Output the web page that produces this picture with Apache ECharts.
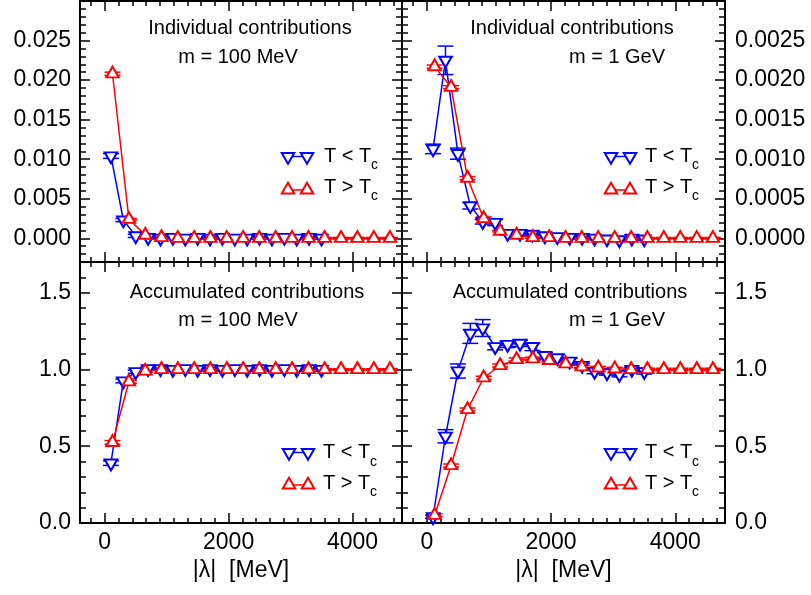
<!DOCTYPE html>
<html><head><meta charset="utf-8">
<script src="https://cdn.jsdelivr.net/npm/echarts@6/dist/echarts.min.js"></script>
<style>html,body{margin:0;padding:0;background:#fff}#c{width:811px;height:595px}</style>
</head><body><div id="c"></div>
<script>
// ---- data ----
const xBelow = [100,300,500,700,900,1100,1300,1500,1700,1900,2100,2300,2500,2700,2900,3100,3300,3500];
const xAbove = [125,390,655,915,1180,1445,1705,1970,2235,2495,2760,3025,3290,3550,3815,4080,4345,4605];

// Individual contributions, m = 100 MeV
const indLightBelow    = [0.0104,0.0023,0.0003,0.0001,0.0000,0.0001,0.0000,0.0001,0.0000,0.0001,0.0000,0.0000,0.0001,0.0000,0.0001,0.0000,0.0001,0.0000];
const indLightBelowErr = [0.0003,0.0002,0.0002,0.0001,0.0001,0.0001,0.0001,0.0001,0.0001,0.0001,0.0001,0.0001,0.0001,0.0001,0.0001,0.0001,0.0001,0.0001];
const indLightAbove    = [0.0208,0.0024,0.0004,0.0001,0.0000,0.0000,0.0000,0.0000,0.0000,0.0000,0.0000,0.0000,0.0000,0.0000,0.0000,0.0000,0.0000,0.0000];
const indLightAboveErr = [0.0002,0.0001,0.0001,0.0001,0.0001,0.0001,0.0001,0.0001,0.0001,0.0001,0.0001,0.0001,0.0001,0.0001,0.0001,0.0001,0.0001,0.0001];

// Individual contributions, m = 1 GeV
const indHeavyBelow    = [0.00113,0.00225,0.00107,0.00041,0.00021,0.00020,0.00006,0.00006,0.00005,0.00003,0.00002,0.00001,0.00001,0.00000,-0.00001,-0.00002,0.00000,-0.00001];
const indHeavyBelowErr = [0.00006,0.00018,0.00007,0.00004,0.00003,0.00004,0.00002,0.00002,0.00002,0.00002,0.00002,0.00002,0.00002,0.00002,0.00002,0.00002,0.00002,0.00002];
const indHeavyAbove    = [0.00217,0.00191,0.00076,0.00025,0.00009,0.00004,0.00001,0.00001,0.00000,0.00000,0.00000,0.00000,0.00000,0.00000,0.00000,0.00000,0.00000,0.00000];
const indHeavyAboveErr = [0.00002,0.00002,0.00002,0.00002,0.00001,0.00001,0.00001,0.00001,0.00001,0.00001,0.00001,0.00001,0.00001,0.00001,0.00001,0.00001,0.00001,0.00001];

// Accumulated contributions, m = 100 MeV
const accLightBelow    = [0.39,0.925,0.985,1.005,1.005,1.0,1.005,1.0,1.005,1.0,1.005,1.0,1.005,1.0,1.005,1.0,1.005,1.0];
const accLightBelowErr = [0.015,0.012,0.01,0.01,0.01,0.01,0.01,0.01,0.01,0.01,0.01,0.01,0.01,0.01,0.01,0.01,0.01,0.01];
const accLightAbove    = [0.525,0.92,0.99,1.0,1.0,1.0,1.0,1.0,1.0,1.0,1.0,1.0,1.0,1.0,1.0,1.0,1.0,1.0];
const accLightAboveErr = [0.012,0.01,0.008,0.006,0.005,0.005,0.005,0.005,0.005,0.005,0.005,0.005,0.005,0.005,0.005,0.005,0.005,0.005];

// Accumulated contributions, m = 1 GeV
const accHeavyBelow    = [0.04,0.565,0.99,1.235,1.27,1.148,1.163,1.17,1.148,1.09,1.076,1.054,1.026,0.987,0.978,0.967,1.0,0.985];
const accHeavyBelowErr = [0.01,0.043,0.046,0.065,0.055,0.02,0.02,0.02,0.025,0.02,0.02,0.02,0.015,0.015,0.015,0.015,0.015,0.015];
const accHeavyAbove    = [0.05,0.374,0.739,0.946,1.026,1.065,1.07,1.059,1.037,1.018,1.01,1.004,1.0,1.0,1.0,1.0,1.0,1.0];
const accHeavyAboveErr = [0.01,0.01,0.01,0.01,0.01,0.01,0.01,0.01,0.01,0.01,0.01,0.01,0.008,0.008,0.008,0.008,0.008,0.008];

// axes
const xRange = [-400, 4800];
const yRanges = [[-0.003, 0.030], [-0.0003, 0.003], [0, 1.7], [0, 1.7]];
const yDecimals = [3, 4, 1, 1];
const ySplit = [7, 7, 3, 3];
const xName = '|\u03bb|  [MeV]';

const panelTitles = ['Individual contributions', 'Individual contributions', 'Accumulated contributions', 'Accumulated contributions'];
const panelMass = ['m = 100 MeV', 'm = 1 GeV', 'm = 100 MeV', 'm = 1 GeV'];
const legendLabels = ['T < T', 'T > T'];
const legendSub = 'c';

// ---- styling / layout ----
const FONT = '"Liberation Sans", Arial, Helvetica, sans-serif';
const BLUE = '#0000ff', RED = '#ff0000';
const TW = 12.5, TH = 10.8;
const grids = [
  {left: 80, top: 1, width: 322, height: 261},
  {left: 402, top: 1, width: 323, height: 261},
  {left: 80, top: 262, width: 322, height: 261},
  {left: 402, top: 262, width: 323, height: 261}
];

const panels = [
  [indLightBelow, indLightBelowErr, indLightAbove, indLightAboveErr],
  [indHeavyBelow, indHeavyBelowErr, indHeavyAbove, indHeavyAboveErr],
  [accLightBelow, accLightBelowErr, accLightAbove, accLightAboveErr],
  [accHeavyBelow, accHeavyBelowErr, accHeavyAbove, accHeavyAboveErr]
];

const tickStyle = {color: '#000', width: 1.5};
function makeX(gi, pos, showLabels, showName) {
  return {
    type: 'value', gridIndex: gi, position: pos, min: xRange[0], max: xRange[1], splitNumber: 3,
    axisLine: {show: true, onZero: false, lineStyle: {color: '#000', width: 2}},
    axisTick: {show: true, inside: true, length: 10, lineStyle: tickStyle},
    minorTick: {show: true, splitNumber: 9, length: 5, lineStyle: tickStyle},
    splitLine: {show: false},
    axisLabel: {show: showLabels, showMinLabel: false, showMaxLabel: false, color: '#000',
      fontSize: 23, fontFamily: FONT, margin: 8, formatter: v => String(Math.round(v))},
    name: showName ? xName : '', nameLocation: 'middle', nameGap: 36,
    nameTextStyle: {color: '#000', fontSize: 23, fontFamily: FONT}
  };
}
function makeY(gi, pos, showLabels, p) {
  return {
    type: 'value', gridIndex: gi, position: pos, min: yRanges[p][0], max: yRanges[p][1], splitNumber: ySplit[p],
    axisLine: {show: true, onZero: false, lineStyle: {color: '#000', width: 2}},
    axisTick: {show: true, inside: true, length: 10, lineStyle: tickStyle},
    minorTick: {show: true, splitNumber: 5, length: 6, lineStyle: tickStyle},
    splitLine: {show: false},
    axisLabel: {show: showLabels, showMinLabel: p >= 2, showMaxLabel: false, color: '#000',
      fontSize: 23, fontFamily: FONT, margin: pos === 'left' ? 9 : 10,
      formatter: v => (Math.abs(v) < 1e-12 ? 0 : v).toFixed(yDecimals[p])}
  };
}

const xAxes = [], yAxes = [], series = [];
for (let p = 0; p < 4; p++) {
  const bottomRow = p >= 2, rightCol = p % 2 === 1;
  xAxes.push(makeX(p, 'bottom', bottomRow, bottomRow));
  xAxes.push(makeX(p, 'top', false, false));
  yAxes.push(makeY(p, 'left', !rightCol, p));
  yAxes.push(makeY(p, 'right', rightCol, p));
}

function errRender(color) {
  return function (params, api) {
    const x = api.value(0), lo = api.value(1), hi = api.value(2);
    const a = api.coord([x, lo]), b = api.coord([x, hi]);
    const w = 8;
    const st = {stroke: color, lineWidth: 1.5, fill: null};
    return {type: 'group', children: [
      {type: 'line', shape: {x1: a[0], y1: a[1], x2: b[0], y2: b[1]}, style: st},
      {type: 'line', shape: {x1: a[0] - w, y1: a[1], x2: a[0] + w, y2: a[1]}, style: st},
      {type: 'line', shape: {x1: b[0] - w, y1: b[1], x2: b[0] + w, y2: b[1]}, style: st}
    ]};
  };
}
const DOWN = 'path://M0,0L12,0L6,10.4Z';
const UP = 'path://M6,0L12,10.4L0,10.4Z';

for (let p = 0; p < 4; p++) {
  const [bv, be, av, ae] = panels[p];
  const groups = [
    {xs: xBelow, v: bv, e: be, color: BLUE, sym: DOWN, off: TH / 6, name: 'below'},
    {xs: xAbove, v: av, e: ae, color: RED, sym: UP, off: -TH / 6, name: 'above'}
  ];
  groups.forEach(g => {
    series.push({
      type: 'custom', xAxisIndex: 2 * p, yAxisIndex: 2 * p, silent: true,
      renderItem: errRender(g.color), encode: {x: 0, y: [1, 2]},
      data: g.xs.map((x, i) => [x, g.v[i] - g.e[i], g.v[i] + g.e[i]])
    });
    series.push({
      type: 'line', name: g.name, xAxisIndex: 2 * p, yAxisIndex: 2 * p,
      data: g.xs.map((x, i) => [x, g.v[i]]),
      symbol: g.sym, symbolSize: [TW, TH], symbolOffset: [0, g.off], showAllSymbol: true,
      lineStyle: {color: g.color, width: 1.5},
      itemStyle: {color: '#fff', borderColor: g.color, borderWidth: 2},
      emphasis: {disabled: true}
    });
  });
}

// ---- graphic: panel titles & legends ----
const titlePos = [[250, 28, 238, 57], [572, 28, 617, 57], [247, 292, 238, 320], [570, 292, 617, 320]];
const graphics = [];
for (let p = 0; p < 4; p++) {
  const t = titlePos[p];
  graphics.push({type: 'text', x: t[0], y: t[1], style: {text: panelTitles[p], font: '20px ' + FONT, fill: '#000', align: 'center', verticalAlign: 'middle'}});
  graphics.push({type: 'text', x: t[2], y: t[3], style: {text: panelMass[p], font: '20px ' + FONT, fill: '#000', align: 'center', verticalAlign: 'middle'}});
}
function tri(cx, cy, down, color) {
  const pts = down
    ? [[cx - TW / 2, cy - TH / 3], [cx + TW / 2, cy - TH / 3], [cx, cy + 2 * TH / 3]]
    : [[cx, cy - 2 * TH / 3], [cx + TW / 2, cy + TH / 3], [cx - TW / 2, cy + TH / 3]];
  return {type: 'polygon', shape: {points: pts}, style: {fill: '#fff', stroke: color, lineWidth: 2}};
}
// [marker x1, marker x2, text x, sub x, blue line y, blue text y, red line y, red text y]
const legendPos = [
  [288, 307, 324, 370, 156.5, 156, 190, 187],
  [611, 630, 645, 691, 156.5, 156, 190, 187],
  [289, 308, 323, 369, 452.5, 452.5, 485, 483],
  [611, 630, 645, 691, 452.5, 452.5, 485, 483]
];
legendPos.forEach(L => {
  const rows = [[L[4], L[5], true, BLUE, legendLabels[0]], [L[6], L[7], false, RED, legendLabels[1]]];
  rows.forEach(r => {
    graphics.push({type: 'line', shape: {x1: L[0], y1: r[0], x2: L[1], y2: r[0]}, style: {stroke: r[3], lineWidth: 1.5}});
    graphics.push(tri(L[0], r[0], r[2], r[3]));
    graphics.push(tri(L[1], r[0], r[2], r[3]));
    graphics.push({type: 'text', x: L[2], y: r[1], style: {text: r[4], font: '20px ' + FONT, fill: '#000', align: 'left', verticalAlign: 'middle'}});
    graphics.push({type: 'text', x: L[3] + 1, y: r[1] + 9.5, style: {text: legendSub, font: '14px ' + FONT, fill: '#000', align: 'left', verticalAlign: 'middle'}});
  });
});

const chart = echarts.init(document.getElementById('c'), null, {renderer: 'canvas'});
chart.setOption({
  animation: false,
  backgroundColor: '#fff',
  grid: grids,
  xAxis: xAxes,
  yAxis: yAxes,
  series: series,
  graphic: graphics
});
</script>
</body></html>
